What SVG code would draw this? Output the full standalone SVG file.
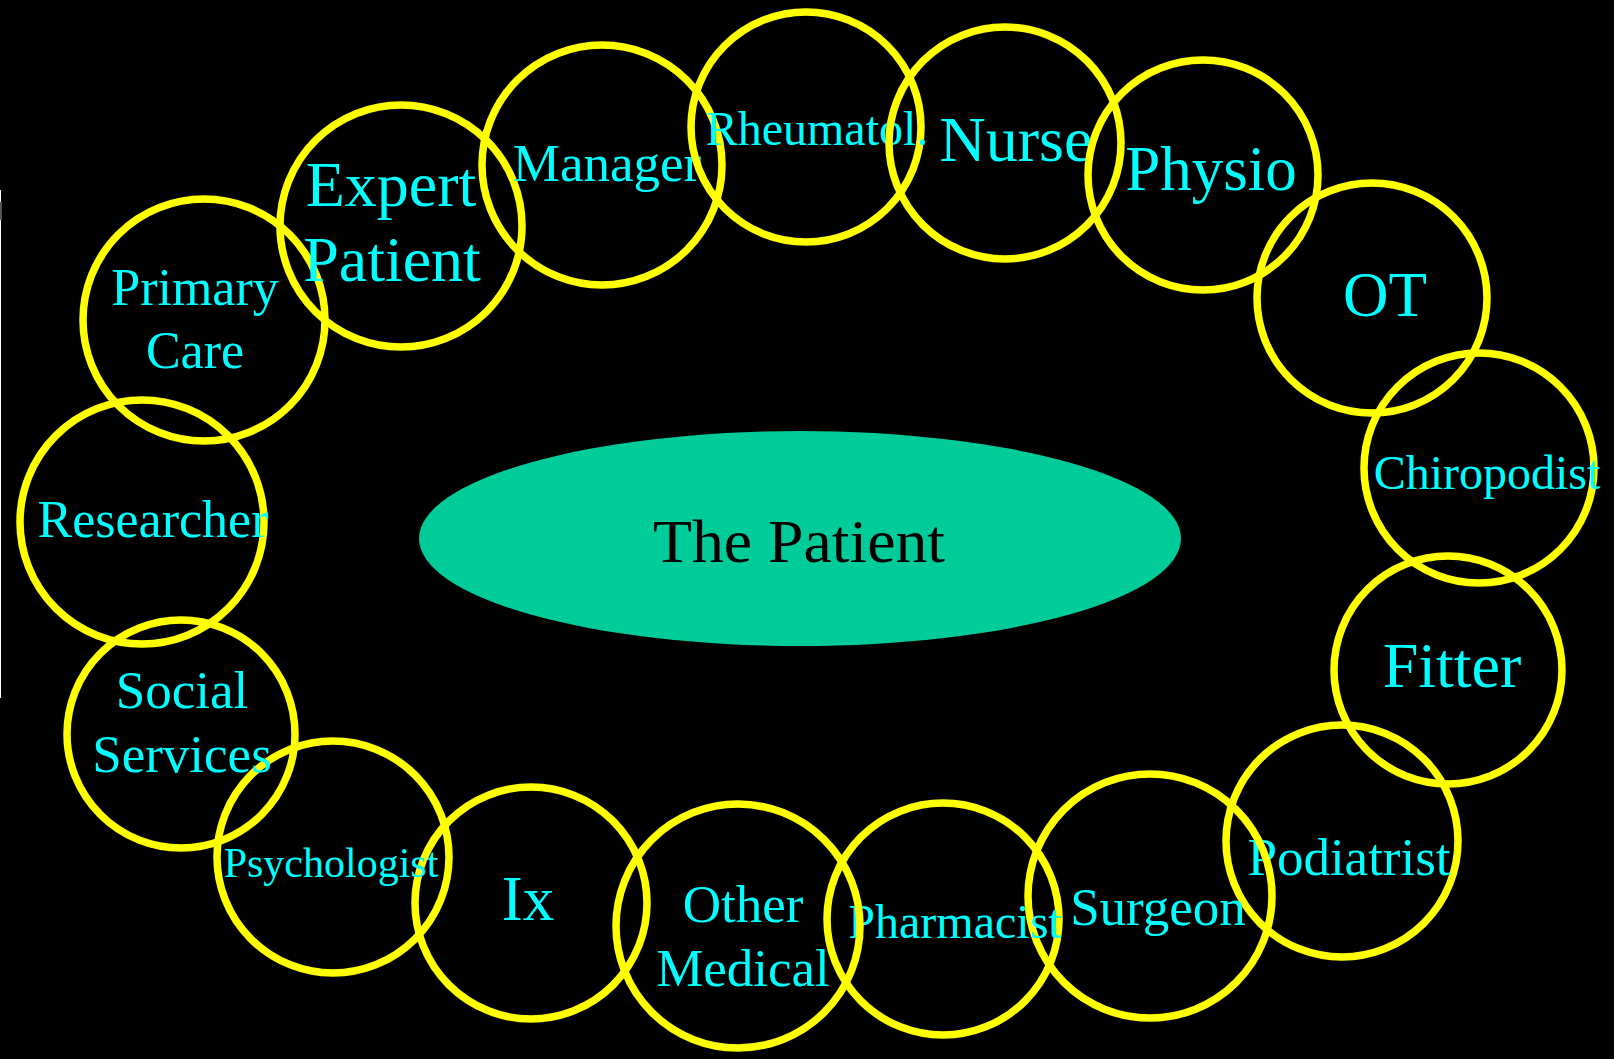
<svg xmlns="http://www.w3.org/2000/svg" width="1614" height="1059" viewBox="0 0 1614 1059">
<style>
.ring{fill:none;stroke:#FFFF00;stroke-width:7.5}
.lbl{fill:#00FFFF;font-family:"Liberation Serif","Times New Roman",serif;text-anchor:middle}
.center{fill:#000000;font-family:"Liberation Serif","Times New Roman",serif;text-anchor:middle}
</style>
<rect x="0" y="0" width="1614" height="1059" fill="#000000"/>
<line x1="0.5" y1="190" x2="0.5" y2="698" stroke="#FFFFFF" stroke-width="1"/>
<rect x="0" y="202" width="2" height="18" fill="#555555"/>
<g id="patient">
<ellipse cx="800" cy="538.5" rx="381" ry="107.5" fill="#00CC99"/>
<text class="center" x="799" y="562" font-size="61" textLength="292" lengthAdjust="spacingAndGlyphs">The Patient</text>
</g>
<g id="connectors"></g>
<g id="primary-care"><circle class="ring" cx="204" cy="320" r="121"/><text class="lbl" x="195" y="305" font-size="52">Primary</text><text class="lbl" x="195" y="368" font-size="52">Care</text></g>
<g id="expert-patient"><circle class="ring" cx="401" cy="226" r="121"/><text class="lbl" x="391" y="206" font-size="64">Expert</text><text class="lbl" x="392" y="281" font-size="64">Patient</text></g>
<g id="manager"><circle class="ring" cx="602" cy="165" r="120"/><text class="lbl" x="607" y="181" font-size="53">Manager</text></g>
<g id="rheumatol"><circle class="ring" cx="806" cy="127" r="115"/><text class="lbl" x="817" y="145" font-size="48">Rheumatol.</text></g>
<g id="nurse"><circle class="ring" cx="1005" cy="143" r="116"/><text class="lbl" x="1016" y="161" font-size="64">Nurse</text></g>
<g id="physio"><circle class="ring" cx="1203" cy="175" r="115"/><text class="lbl" x="1211" y="190" font-size="63">Physio</text></g>
<g id="ot"><circle class="ring" cx="1372" cy="298" r="115"/><text class="lbl" x="1385" y="316" font-size="63">OT</text></g>
<g id="chiropodist"><circle class="ring" cx="1479" cy="468" r="115"/><text class="lbl" x="1487" y="489" font-size="48">Chiropodist</text></g>
<g id="fitter"><circle class="ring" cx="1448" cy="670" r="114"/><text class="lbl" x="1452" y="687" font-size="64">Fitter</text></g>
<g id="podiatrist"><circle class="ring" cx="1342" cy="841" r="116"/><text class="lbl" x="1349" y="875" font-size="53">Podiatrist</text></g>
<g id="surgeon"><circle class="ring" cx="1150" cy="896" r="122"/><text class="lbl" x="1158" y="925" font-size="53">Surgeon</text></g>
<g id="pharmacist"><circle class="ring" cx="943" cy="919" r="116"/><text class="lbl" x="955" y="938" font-size="48">Pharmacist</text></g>
<g id="other-medical"><circle class="ring" cx="738" cy="926" r="122"/><text class="lbl" x="743" y="922" font-size="53">Other</text><text class="lbl" x="743" y="986" font-size="53">Medical</text></g>
<g id="ix"><circle class="ring" cx="531" cy="903" r="116"/><text class="lbl" x="528" y="920" font-size="63">Ix</text></g>
<g id="psychologist"><circle class="ring" cx="333" cy="857" r="116"/><text class="lbl" x="331" y="877" font-size="42">Psychologist</text></g>
<g id="social-services"><circle class="ring" cx="181" cy="734" r="114"/><text class="lbl" x="182" y="708" font-size="53">Social</text><text class="lbl" x="182" y="772" font-size="53">Services</text></g>
<g id="researcher"><circle class="ring" cx="142" cy="522" r="122"/><text class="lbl" x="153" y="537" font-size="52">Researcher</text></g>
</svg>
